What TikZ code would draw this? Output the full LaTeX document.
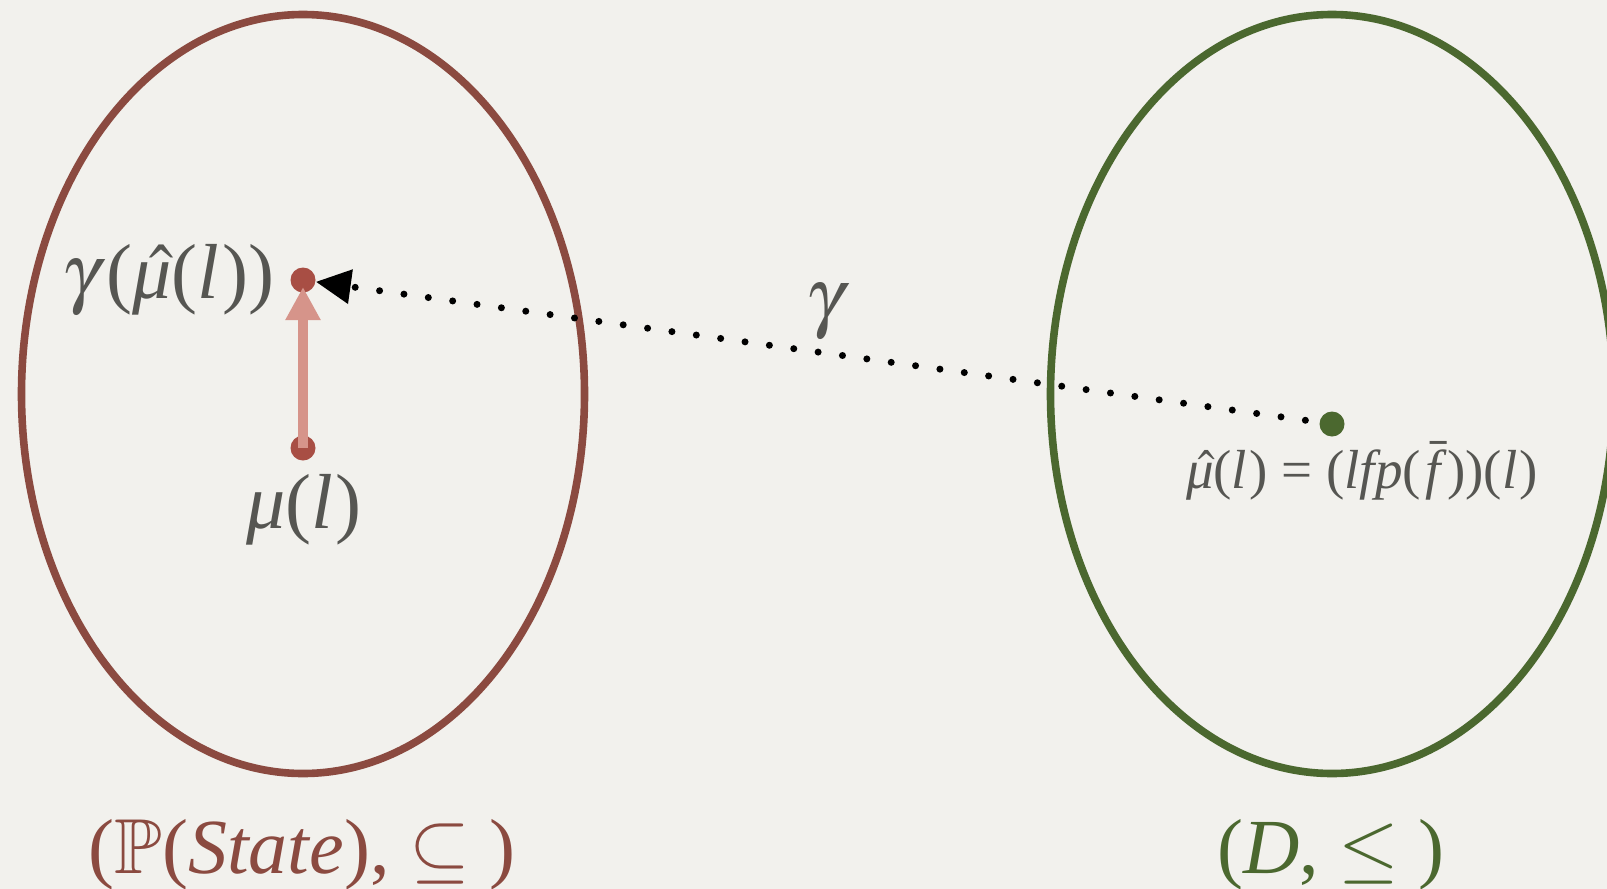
\documentclass[tikz,border=0pt]{standalone}
\usepackage{mathptmx}
\usepackage{amssymb}
\usepackage{fontspec}
\setmainfont{Liberation Serif}
\usetikzlibrary{arrows.meta,shapes.geometric}
\definecolor{paper}{RGB}{242,241,237}
\definecolor{brownline}{RGB}{139,74,64}
\definecolor{greenline}{RGB}{75,104,47}
\definecolor{labelgray}{RGB}{86,86,82}
\definecolor{dotred}{RGB}{168,78,68}
\definecolor{pinkarrow}{RGB}{214,148,138}
\newcommand{\hatmu}{\rlap{\itshape μ}\hspace{0.12em}$\hat{\mbox{\phantom{\itshape μ}}}$\hspace{-0.12em}}
\newcommand{\barf}{\hspace{0.08em}\rlap{\itshape f}\hspace{0.1em}$\bar{\mbox{\phantom{\itshape f}}}$\hspace{-0.1em}\/\hspace{0.12em}}
\newcommand{\itl}{{\itshape l\/}\hspace{0.04em}}
\newcommand{\gam}{$\gamma$\hspace{0.08em}}
\tikzset{
  lattice/.style={draw=#1,ellipse,line width=3.8pt,inner sep=0pt,
    minimum width=281.5pt,minimum height=379.5pt},
  elem/.style={circle,fill=#1,inner sep=0pt,minimum size=12.5pt},
  elem/.default=dotred,
  lbl/.style={text=#1,font=\fontsize{39}{44}\selectfont,inner sep=0pt},
  lbl/.default=labelgray,
  gammamap/.style={black,line width=3.5pt,line cap=round,
    dash pattern=on 0pt off 12.3pt,shorten <=7pt,
    -{Triangle[length=17.5pt,width=16.5pt]}},
  incl/.style={pinkarrow,line width=5pt,shorten >=3.5pt,
    -{Triangle[length=16.5pt,width=16.5pt]}},
}
\begin{document}
\begin{tikzpicture}[x=0.5pt,y=-0.5pt]
  \useasboundingbox (0,0) rectangle (1607,889);
  \clip (0,0) rectangle (1607,889);
  \fill[paper] (0,0) rectangle (1607,889);
  % the two orders
  \node[lattice=brownline] (pset) at (303,394) {};
  \node[lattice=greenline] (dom) at (1332,394) {};
  % elements
  \node[elem] (ghat) at (303,280) {};
  \node[elem] (mu) at (303,448) {};
  \node[elem=greenline] (muhat) at (1332,424) {};
  \draw[gammamap] (muhat) -- (ghat);
  \draw[incl] (mu.center) -- (ghat.center);
  % labels
  \node[lbl,anchor=base east] (ghatlbl) at (275,298) {\gam(\hatmu(\itl))};
  \node[lbl,anchor=base] (mulbl) at (304,528) {{\itshape μ}(\itl)};
  \node[lbl,anchor=base,font=\fontsize{27.5}{32}\selectfont] (muhatlbl) at (1362,488) {\hatmu(\itl) = ({\itshape lfp}(\barf))(\itl)};
  \node[lbl,anchor=base] (gammalbl) at (825,322) {$\gamma$};
  \node[lbl=brownline,anchor=base] (psetlbl) at (302,873) {($\mathbb{P}$({\itshape State}), $\subseteq$ )};
  \node[lbl=greenline,anchor=base] (domlbl) at (1331,873) {({\itshape D}, $\leq$ )};
\end{tikzpicture}
\end{document}
